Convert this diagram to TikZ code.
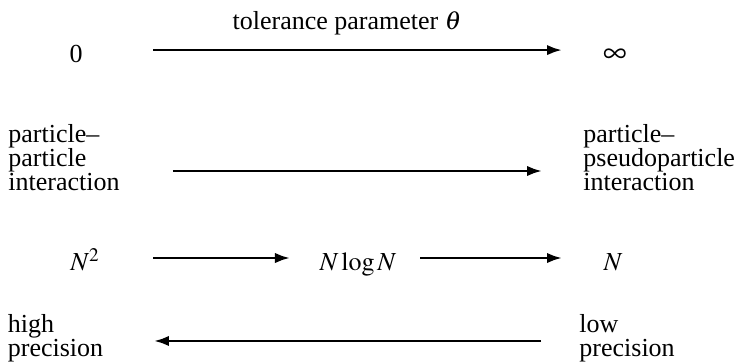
\documentclass[tikz,border=0pt]{standalone}
\usepackage{amsmath}
\usepackage{mathptmx}
\usepackage{fontspec}
\setmainfont{Liberation Serif}
\usetikzlibrary{arrows.meta}

\begin{document}
\begin{tikzpicture}[>=Latex, font=\fontsize{13}{12}\selectfont,
    lab/.style={inner sep=0pt, anchor=base},
    blk/.style={inner sep=0pt, anchor=base west, align=left},
    arr/.style={->, line width=1.3pt, >={Latex[length=7.5pt, width=5.2pt]}}]
  \useasboundingbox (0,0) rectangle (12.969,-6.379);
  % ================================================================ tolerance parameter
  \node[lab] (theta) at (6.098,-0.510) {tolerance parameter $\theta$};
  \node[lab] (zero) at (1.336,-1.107) {0};
  \node[lab] (inf) at (10.807,-1.107) {\fontsize{16.5}{16}\selectfont$\infty$};
  \coordinate (t0) at (2.689,-0.880);
  \coordinate (t1) at (9.876,-0.880);
  \draw[arr] (t0) -- (t1);
  % ================================================================ interaction type
  \node[blk] (pp) at (0.141,-3.356) {particle--\\particle\\interaction};
  \node[blk] (ppp) at (10.245,-3.356) {particle--\\pseudoparticle\\interaction};
  \coordinate (i0) at (3.040,-3.005);
  \coordinate (i1) at (9.525,-3.005);
  \draw[arr] (i0) -- (i1);
  % ================================================================ cost
  \node[lab] (nsq) at (1.494,-4.762) {$N^2$};
  \node[lab] (nlog) at (6.291,-4.762) {$N\log N$};
  \node[lab] (nlin) at (10.772,-4.762) {$N$};
  \coordinate (c0) at (2.689,-4.534);
  \coordinate (c1) at (5.096,-4.534);
  \coordinate (c2) at (7.381,-4.534);
  \coordinate (c3) at (9.876,-4.534);
  \draw[arr] (c0) -- (c1);
  \draw[arr] (c2) -- (c3);
  % ================================================================ precision
  \node[blk] (hi) at (0.132,-6.256) {high\\precision};
  \node[blk] (lo) at (10.175,-6.256) {low\\precision};
  \coordinate (p0) at (9.507,-5.992);
  \coordinate (p1) at (2.706,-5.992);
  \draw[arr] (p0) -- (p1);
\end{tikzpicture}
\end{document}
